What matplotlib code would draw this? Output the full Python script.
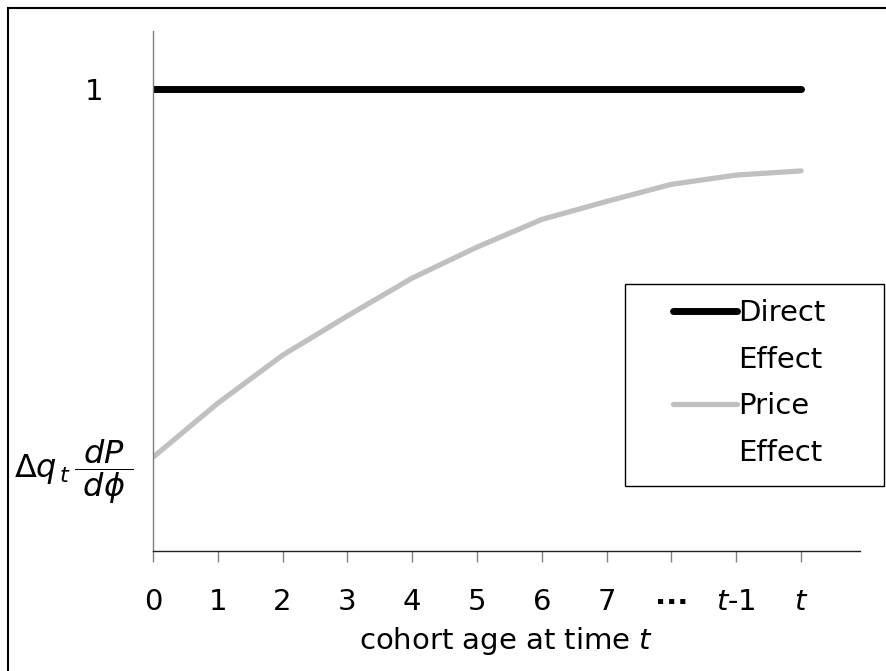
import matplotlib
matplotlib.use("Agg")
import matplotlib.pyplot as plt
from matplotlib.lines import Line2D
from matplotlib.patches import Rectangle

plt.rcParams['font.family'] = ['DejaVu Sans']
plt.rcParams['mathtext.fontset'] = 'dejavusans'

# Data
age = [0, 1, 2, 3, 4, 5, 6, 7, 8, 9, 10]
age_labels = ['0', '1', '2', '3', '4', '5', '6', '7', '\u00b7\u00b7\u00b7', '$t$-1', '$t$']
direct_effect = [1.0] * 11
price_effect = [0.203, 0.320, 0.424, 0.509, 0.591, 0.658, 0.718, 0.757, 0.794, 0.814, 0.823]
ytick_vals = [0.203, 1.0]
ytick_labels = [r'$\Delta q_{\,t}\,\dfrac{\;dP\;}{d\phi}$', '1']

W, H = 887, 671
fig = plt.figure(figsize=(W / 100, H / 100), dpi=100)
ax = fig.add_axes([153 / W, 1 - 551 / H, (860 - 153) / W, (551 - 31) / H])

ax.plot(age, direct_effect, color='black', lw=5, solid_capstyle='round', label='Direct')
ax.plot(age, price_effect, color='#c0c0c0', lw=3.75, solid_capstyle='round', label='Price')

ax.set_xlim(0, 10.91)
ax.set_ylim(0, 1.126)

ax.spines['top'].set_visible(False)
ax.spines['right'].set_visible(False)
ax.spines['left'].set_color('#808080')
ax.spines['left'].set_linewidth(1.0)
ax.spines['bottom'].set_color('#202020')
ax.spines['bottom'].set_linewidth(1.0)

ax.set_xticks(age)
ax.set_xticklabels(age_labels, fontsize=21)
ax.get_xticklabels()[8].set_fontweight('bold')
ax.tick_params(axis='x', length=8, width=1.0, color='#808080', pad=19, direction='out')

ax.set_yticks(ytick_vals)
ax.set_yticklabels(ytick_labels, fontsize=21)
ax.get_yticklabels()[0].set_fontsize(23)
ax.tick_params(axis='y', length=0, pad=14)
ax.yaxis.get_major_ticks()[1].set_pad(36)

ax.set_xlabel('cohort age at time $t$', fontsize=21, labelpad=6)

# legend: one row per text line so the handle sits by the first line
handles = [
    Line2D([], [], color='black', lw=5, solid_capstyle='round'),
    Line2D([], [], color='none'),
    Line2D([], [], color='#c0c0c0', lw=3.75, solid_capstyle='round'),
    Line2D([], [], color='none'),
]
labels = ['Direct', 'Effect', 'Price', 'Effect']
ax.legend(handles, labels, loc='upper left', bbox_to_anchor=(673 / W, 1 - 299 / H),
          bbox_transform=fig.transFigure, frameon=False, borderpad=0, borderaxespad=0,
          handlelength=2.2, handletextpad=0.05, labelspacing=0.64, fontsize=21)
fig.patches.append(Rectangle((625 / W, 1 - 486 / H), (884 - 625) / W, (486 - 284) / H,
                             transform=fig.transFigure, fill=False, ec='black', lw=1.0))

# outer frame (only top and left edges fall inside the picture)
fig.patches.append(Rectangle((8 / W, -0.1), 1.2, 1.1 - 8 / H, transform=fig.transFigure,
                             fill=False, ec='black', lw=1.5))

fig.savefig('out.png', dpi=100)
